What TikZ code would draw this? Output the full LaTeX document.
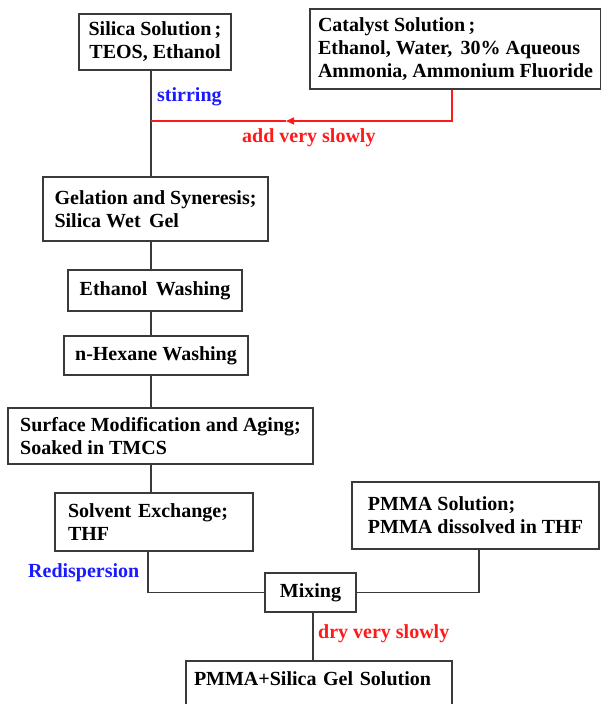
\documentclass[tikz,border=0pt]{standalone}
\usepackage{fontspec}
\setmainfont{Liberation Serif}[BoldFont={Liberation Serif Bold}]
\usepackage{tikz}
\usetikzlibrary{arrows.meta,calc,positioning}

\definecolor{linegray}{HTML}{3A3A3A}
\definecolor{stepblue}{HTML}{1A1AFF}
\definecolor{stepred}{HTML}{FF1A1A}

\begin{document}
\begin{tikzpicture}[
  x=1pt, y=-1pt,
  box/.style={draw=linegray, line width=1.6pt, inner xsep=8pt, inner ysep=0pt,
    font=\rmfamily\fontsize{20}{23}\selectfont\bfseries, align=center},
  lbox/.style={box, align=left},
  note/.style={inner sep=0pt, anchor=west, font=\rmfamily\fontsize{20}{23}\selectfont\bfseries},
  link/.style={draw=linegray, line width=1.6pt},
  redlink/.style={draw=stepred, line width=1.3pt}
]
\useasboundingbox (0,0) rectangle (601,704);
\clip (0,0) rectangle (601,704);

% sources
\node[box, minimum width=152, minimum height=56] (silica) at (155,42) {Silica Solution\,;\\TEOS, Ethanol};
\node[lbox, minimum width=287, minimum height=80] (cat) at (455.5,49) {Catalyst Solution\,;\\Ethanol, Water,\, 30\% Aqueous\\Ammonia, Ammonium Fluoride};

% main line
\node[lbox, minimum width=225, minimum height=64] (gel) at (155.5,209) {Gelation and Syneresis;\\Silica Wet\, Gel};
\node[box, minimum width=174, minimum height=41] (eth) at (155,290.5) {Ethanol\, Washing};
\node[box, minimum width=184, minimum height=39] (hex) at (156,355.5) {n-Hexane Washing};
\node[lbox, minimum width=305, minimum height=56] (surf) at (160.5,436) {Surface Modification and Aging;\\Soaked in TMCS};
\node[lbox, inner xsep=13pt, text width=172pt, minimum height=58] (solv) at (154,522) {Solvent Exchange;\\THF};
\node[lbox, minimum width=247, minimum height=67] (pmma) at (475.5,515.5) {PMMA Solution;\\PMMA dissolved in THF};
\node[box, minimum width=91, minimum height=39] (mix) at (310.5,592.5) {Mixing};
\node[lbox, anchor=north, text width=250pt, text height=25pt, text depth=40pt] (final) at (319,660) {PMMA+Silica Gel Solution};

% labels
\node[note, text=stepblue] (stir) at (157,97) {stirring};
\node[note, text=stepred] (slow) at (242,138) {add very slowly};
\node[note, text=stepblue] (redisp) at (28,573) {Redispersion};
\node[note, text=stepred] (dry) at (318,634) {dry very slowly};

\coordinate (spine) at (151,0);
\coordinate (spineb) at (148,0);
\coordinate (redx) at (452,0);
\coordinate (pmx) at (479,0);
\coordinate (dryx) at (313,0);
\coordinate (join) at (151,121);
\coordinate (tip) at (286,121);

% connectors
\draw[link] (silica.south -| spine) -- (gel.north -| spine);
\draw[link] (gel.south -| spine) -- (eth.north -| spine);
\draw[link] (eth.south -| spine) -- (hex.north -| spine);
\draw[link] (hex.south -| spine) -- (surf.north -| spine);
\draw[link] (surf.south -| spine) -- (solv.north -| spine);
\draw[link] (solv.south -| spineb) |- (mix.west);
\draw[link] (pmma.south -| pmx) |- (mix.east);
\draw[link] (mix.south -| dryx) -- (final.north -| dryx);

\draw[redlink, -{Triangle[length=8pt, width=7pt]}] (cat.south -| redx) |- (tip);
\draw[redlink] (tip) -- (join);
\end{tikzpicture}
\end{document}
